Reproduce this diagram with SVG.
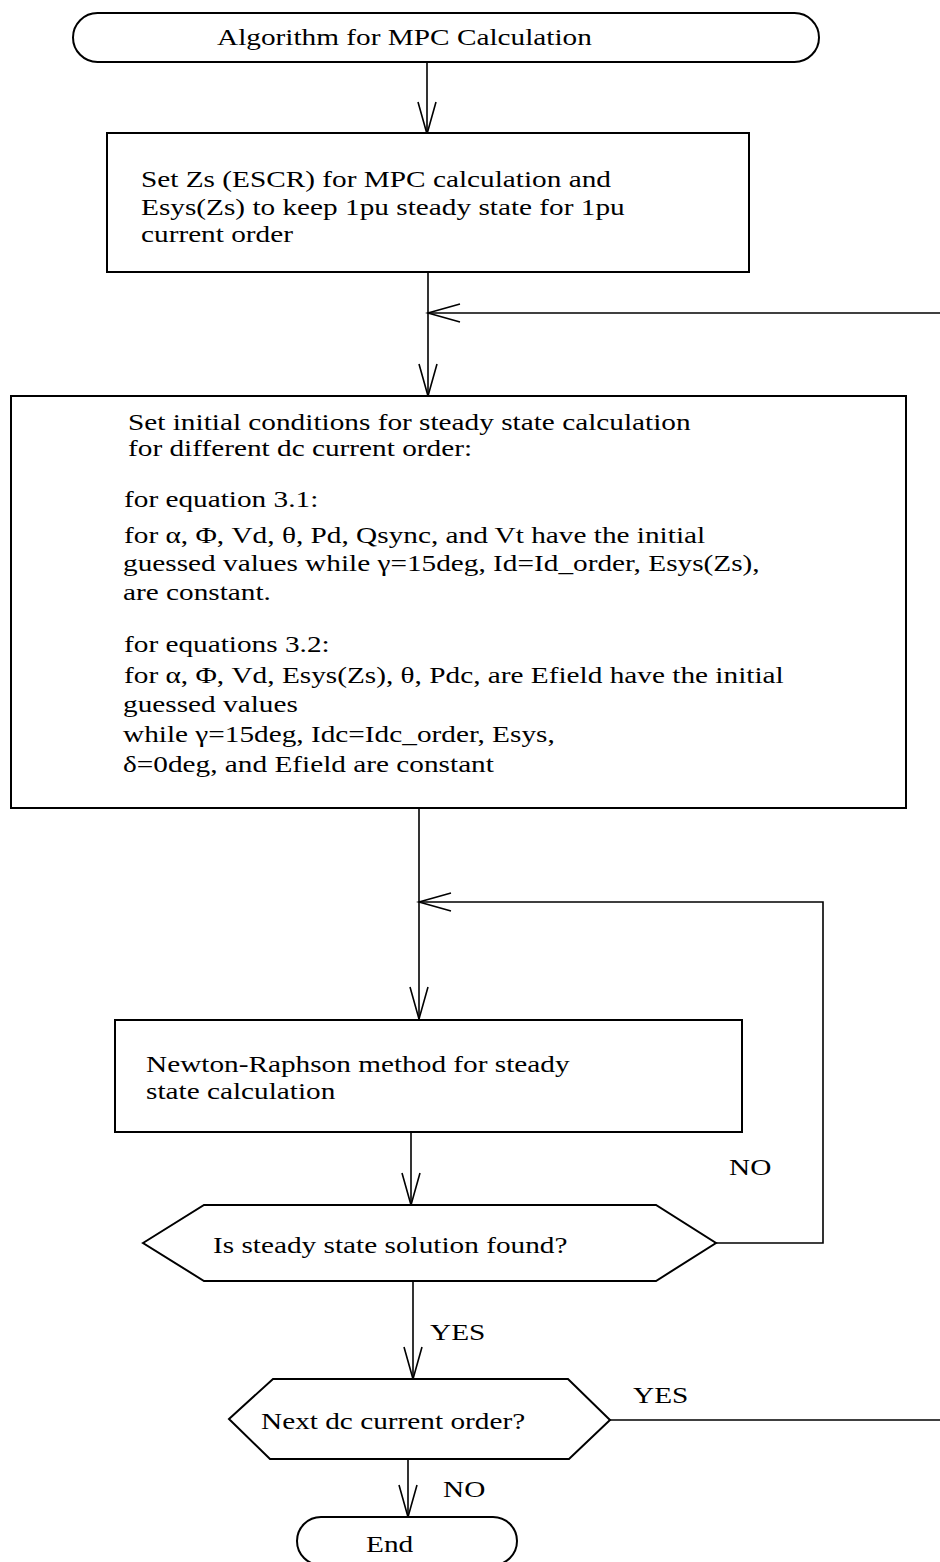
<svg xmlns="http://www.w3.org/2000/svg" width="940" height="1562" viewBox="0 0 940 1562">
<style>
.s{fill:#fff;stroke:#000;stroke-width:2}
.c{fill:none;stroke:#000;stroke-width:1.6}
.t{font-family:"Liberation Serif","Times New Roman",serif;font-size:24px;fill:#000}
</style>
<defs>
<marker id="ah" markerUnits="userSpaceOnUse" markerWidth="40" markerHeight="24" refX="32" refY="9" orient="auto" overflow="visible">
<path d="M0,0 L32,9 L0,18" fill="none" stroke="#000" stroke-width="1.6"/>
</marker>
</defs>
<rect width="940" height="1562" fill="#fff"/>
<g id="connectors">
<path class="c" d="M427,62 V134" marker-end="url(#ah)"/>
<path class="c" d="M428,272 V396" marker-end="url(#ah)"/>
<path class="c" d="M940,313 H428" marker-end="url(#ah)"/>
<path class="c" d="M419,808 V1019" marker-end="url(#ah)"/>
<path class="c" d="M716,1243 H823 V902 H419" marker-end="url(#ah)"/>
<path class="c" d="M411,1132 V1205" marker-end="url(#ah)"/>
<path class="c" d="M413,1281 V1379" marker-end="url(#ah)"/>
<path class="c" d="M610,1420 H940"/>
<path class="c" d="M408,1459 V1517" marker-end="url(#ah)"/>
</g>
<g id="start">
<rect class="s" x="73" y="13" width="746" height="49" rx="24.5"/>
<text class="t" transform="translate(217,45) scale(1.22,1)">Algorithm for MPC Calculation</text>
</g>
<g id="setZs">
<rect class="s" x="107" y="133" width="642" height="139"/>
<text class="t" transform="translate(141,187) scale(1.22,1)">Set Zs (ESCR) for MPC calculation and</text>
<text class="t" transform="translate(141,215) scale(1.22,1)">Esys(Zs) to keep 1pu steady state for 1pu</text>
<text class="t" transform="translate(141,242) scale(1.22,1)">current order</text>
</g>
<g id="initial">
<rect class="s" x="11" y="396" width="895" height="412"/>
<text class="t" transform="translate(128,430) scale(1.22,1)">Set initial conditions for steady state calculation</text>
<text class="t" transform="translate(128,456) scale(1.22,1)">for different dc current order:</text>
<text class="t" transform="translate(124,507) scale(1.22,1)">for equation 3.1:</text>
<text class="t" transform="translate(124,543) scale(1.22,1)">for α, Φ, Vd, θ, Pd, Qsync, and Vt have the initial</text>
<text class="t" transform="translate(123,571) scale(1.22,1)">guessed values while γ=15deg, Id=Id_order, Esys(Zs),</text>
<text class="t" transform="translate(123,600) scale(1.22,1)">are constant.</text>
<text class="t" transform="translate(124,652) scale(1.22,1)">for equations 3.2:</text>
<text class="t" transform="translate(124,683) scale(1.22,1)">for α, Φ, Vd, Esys(Zs), θ, Pdc, are Efield have the initial</text>
<text class="t" transform="translate(123,712) scale(1.22,1)">guessed values</text>
<text class="t" transform="translate(123,742) scale(1.22,1)">while γ=15deg, Idc=Idc_order, Esys,</text>
<text class="t" transform="translate(123,772) scale(1.22,1)">δ=0deg, and Efield are constant</text>
</g>
<g id="newton">
<rect class="s" x="115" y="1020" width="627" height="112"/>
<text class="t" transform="translate(146,1072) scale(1.22,1)">Newton-Raphson method for steady</text>
<text class="t" transform="translate(146,1099) scale(1.22,1)">state calculation</text>
</g>
<g id="found">
<polygon class="s" points="143,1243 204,1205 656,1205 716,1243 656,1281 204,1281"/>
<text class="t" transform="translate(213,1253) scale(1.22,1)">Is steady state solution found?</text>
</g>
<g id="next">
<polygon class="s" points="229,1419 273,1379 568,1379 610,1420 569,1459 270,1459"/>
<text class="t" transform="translate(261,1429) scale(1.22,1)">Next dc current order?</text>
</g>
<g id="end">
<rect class="s" x="297" y="1517" width="220" height="48" rx="24"/>
<text class="t" transform="translate(366,1552) scale(1.22,1)">End</text>
</g>
<g id="labels">
<text class="t" transform="translate(729,1175) scale(1.22,1)">NO</text>
<text class="t" transform="translate(430,1340) scale(1.22,1)">YES</text>
<text class="t" transform="translate(633,1403) scale(1.22,1)">YES</text>
<text class="t" transform="translate(443,1497) scale(1.22,1)">NO</text>
</g>
</svg>
